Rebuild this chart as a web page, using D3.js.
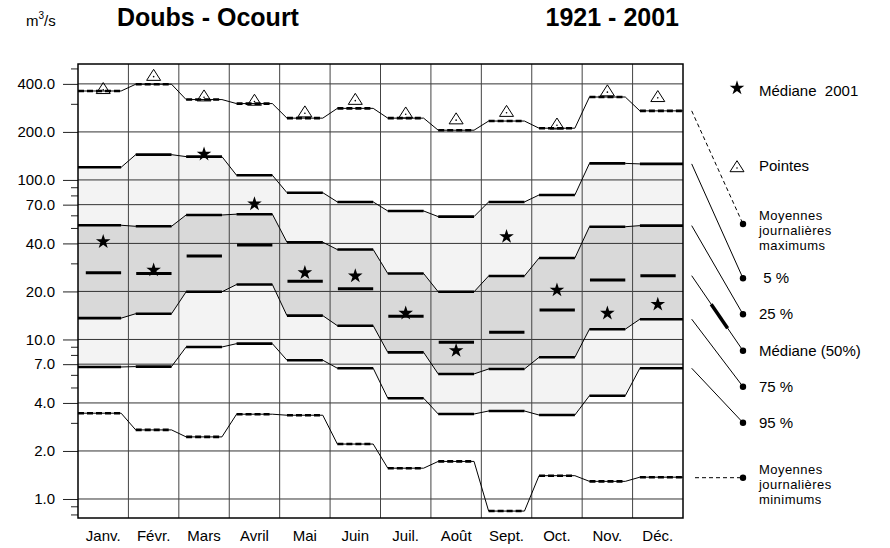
<!DOCTYPE html>
<html><head><meta charset="utf-8">
<script src="https://cdn.jsdelivr.net/npm/d3@7"></script>
<style>
html,body{margin:0;padding:0;background:#fff;}
text{font-family:"Liberation Sans",Arial,Helvetica,sans-serif;fill:#000;}
</style></head>
<body><svg id="c" width="890" height="548"></svg>
<script>
const months = ["Janv.","Févr.","Mars","Avril","Mai","Juin","Juil.","Août","Sept.","Oct.","Nov.","Déc."];
const maxDaily   = [361,398,319,301,244,281,244,205,234,211,331,271];
const pointes    = [367,444,330,310,262,314,258,237,264,220,355,327];
const q05        = [120,144,140,107,83.2,72.8,63.9,58.9,72.8,80.5,127,126];
const q25        = [52.0,51.2,60.3,61.0,40.7,36.6,25.9,19.9,25.0,32.4,50.9,51.7];
const q50        = [26.2,25.9,33.4,39.1,23.2,20.8,14.0,9.6,11.1,15.3,23.6,25.1];
const q75        = [13.6,14.5,19.9,22.1,14.1,12.2,8.3,6.08,6.53,7.73,11.6,13.4];
const q95        = [6.72,6.76,8.97,9.41,7.41,6.60,4.28,3.41,3.56,3.36,4.44,6.60];
const minDaily   = [3.45,2.71,2.45,3.40,3.35,2.21,1.56,1.72,0.84,1.40,1.29,1.37];
const median2001 = [41.0,27.2,145,70.7,26.2,25.0,14.6,8.51,44.1,20.4,14.6,16.6];
const majorTicks = [1,2,4,7,10,20,40,70,100,200,400];
const minorTicks = [0.8,0.9,3,5,6,8,9,30,50,60,80,90,300,500];
const legendLabels = ["Médiane  2001","Pointes","Moyennes|journalières|maximums"," 5 %","25 %","Médiane (50%)","75 %","95 %","Moyennes|journalières|minimums"];

const svg = d3.select("#c");
const L = 78, R = 683, T = 64, B = 518;
const x = d3.scaleBand().domain(months).range([L, R]).paddingInner(0).paddingOuter(0);
const y = d3.scaleLog().domain([0.76, 533]).range([B, T]);
const bw = x.bandwidth();
const inset = 7.3;

function pts(vals){
  const out = [];
  vals.forEach((v,i)=>{
    const x0 = x(months[i]), x1 = x0 + bw;
    out.push({x: i===0 ? x0 : x0+inset, v, i});
    out.push({x: i===11 ? x1 : x1-inset, v, i});
  });
  return out;
}
const line = d3.line().x(d=>d.x).y(d=>y(d.v));

// fills
function band(top, bot, color){
  const a = pts(top), b = pts(bot);
  const data = a.map((d,k)=>({x:d.x, t:d.v, b:b[k].v}));
  svg.append("path").datum(data)
    .attr("d", d3.area().x(d=>d.x).y0(d=>y(d.b)).y1(d=>y(d.t)))
    .attr("fill", color).attr("stroke","none");
}
band(q05, q95, "#f3f3f3");
band(q25, q75, "#d9d9d9");

// gridlines
svg.append("g").selectAll("line").data(majorTicks).join("line")
  .attr("x1", L).attr("x2", R).attr("y1", d=>y(d)).attr("y2", d=>y(d))
  .attr("stroke", "#333").attr("stroke-width", 1);
svg.append("g").selectAll("line").data(months.slice(1)).join("line")
  .attr("x1", d=>x(d)).attr("x2", d=>x(d)).attr("y1", T).attr("y2", B)
  .attr("stroke", "#444").attr("stroke-width", 1);

// axes
const ax = svg.append("g").attr("transform", `translate(${L},0)`)
  .call(d3.axisLeft(y).tickValues(majorTicks).tickFormat(d3.format(".1f")).tickSize(15).tickPadding(8));
ax.select(".domain").remove();
ax.selectAll("line").attr("stroke","#222");
ax.selectAll("text").attr("font-size", 15).attr("font-family", '"Liberation Sans",Arial,sans-serif').attr("fill","#000");
const axm = svg.append("g").attr("transform", `translate(${L},0)`)
  .call(d3.axisLeft(y).tickValues(minorTicks).tickFormat("").tickSize(7));
axm.select(".domain").remove();
axm.selectAll("line").attr("stroke","#222");

// month labels
svg.append("g").selectAll("text").data(months).join("text")
  .attr("x", d=>x(d)+bw/2).attr("y", 541).attr("text-anchor","middle")
  .attr("font-size", 15).text(d=>d);

// series lines
function series(vals, dashed){
  const p = pts(vals);
  svg.append("path").datum(p).attr("d", line).attr("fill","none")
    .attr("stroke","#000").attr("stroke-width",1);
  const g = svg.append("g");
  for(let i=0;i<12;i++){
    g.append("line").attr("x1", p[2*i].x).attr("x2", p[2*i+1].x)
      .attr("y1", y(vals[i])).attr("y2", y(vals[i]))
      .attr("stroke","#000").attr("stroke-width", 2.6)
      .attr("stroke-dasharray", dashed ? "6,3" : null);
  }
}
series(maxDaily, true);
series(q05, false);
series(q25, false);
series(q75, false);
series(q95, false);
series(minDaily, true);

// medians
svg.append("g").selectAll("line").data(q50).join("line")
  .attr("x1", (d,i)=>x(months[i])+inset+0.5).attr("x2", (d,i)=>x(months[i])+bw-inset)
  .attr("y1", d=>y(d)).attr("y2", d=>y(d))
  .attr("stroke","#000").attr("stroke-width",3);

// markers
const star = d3.symbol(d3.symbolStar, 66);
const triPath = "M0,-7.3L7,3.7L-7,3.7Z";
svg.append("g").selectAll("path").data(median2001).join("path")
  .attr("transform",(d,i)=>`translate(${x(months[i])+bw/2},${y(d)})`)
  .attr("d", star).attr("fill","#000");
const tg = svg.append("g").selectAll("g").data(pointes).join("g")
  .attr("transform",(d,i)=>`translate(${x(months[i])+bw/2},${y(d)})`);
tg.append("path").attr("d", triPath).attr("fill","none").attr("stroke","#000").attr("stroke-width",1);
tg.append("circle").attr("r",0.8).attr("fill","#000");

// border
svg.append("rect").attr("x",L).attr("y",T).attr("width",R-L).attr("height",B-T)
  .attr("fill","none").attr("stroke","#000").attr("stroke-width",1.5);

// titles
const u = svg.append("text").attr("x",26).attr("y",26).attr("font-size",15);
u.append("tspan").text("m");
u.append("tspan").attr("font-size",10).attr("dy",-7).text("3");
u.append("tspan").attr("dy",7).text("/s");
svg.append("text").attr("x",117).attr("y",26).attr("font-size",25).attr("font-weight","bold").text("Doubs - Ocourt");
svg.append("text").attr("x",679).attr("y",26).attr("font-size",25).attr("font-weight","bold").attr("text-anchor","end").text("1921 - 2001");

// legend
const lx0 = 691.7, dotX = 743, tx = 759;
const lg = svg.append("g");
lg.append("path").attr("d", star).attr("transform","translate(737,88)").attr("fill","#000");
lg.append("text").attr("x",tx).attr("y",96).attr("font-size",15).style("white-space","pre").text(legendLabels[0]);
const lt = lg.append("g").attr("transform","translate(737,168)");
lt.append("path").attr("d", triPath).attr("fill","none").attr("stroke","#000");
lt.append("circle").attr("r",0.8).attr("fill","#000");
lg.append("text").attr("x",tx).attr("y",171).attr("font-size",15).text(legendLabels[1]);

function multi(lbl, x0, y0){
  const t = lg.append("text").attr("font-size",13).attr("letter-spacing","0.45");
  lbl.split("|").forEach((s,k)=>t.append("tspan").attr("x",x0).attr("y",y0+k*15).text(s));
}
const items = [
  {v: maxDaily[11], dy: 224, dash: true, lbl: legendLabels[2], ty: 219.5},
  {v: q05[11], dy: 278.3, lbl: legendLabels[3], ty: 283},
  {v: q25[11], dy: 314.3, lbl: legendLabels[4], ty: 319},
  {v: q50[11], dy: 350.7, lbl: legendLabels[5], ty: 355.5, med: true},
  {v: q75[11], dy: 386.7, lbl: legendLabels[6], ty: 391.5},
  {v: q95[11], dy: 422.7, lbl: legendLabels[7], ty: 427.5},
  {v: minDaily[11], dy: 477.7, dash: true, lbl: legendLabels[8], ty: 474, flat: true}
];
items.forEach(it=>{
  const y0 = it.flat ? it.dy : y(it.v);
  const sx = it.flat ? 695 : lx0;
  lg.append("line").attr("x1",sx).attr("y1",y0).attr("x2",dotX).attr("y2",it.dy)
    .attr("stroke","#000").attr("stroke-width",1).attr("stroke-dasharray", it.dash ? "4,3" : null);
  if(it.med){
    const t0 = 0.38, t1 = 0.7;
    lg.append("line").attr("x1",sx+(dotX-sx)*t0).attr("y1",y0+(it.dy-y0)*t0)
      .attr("x2",sx+(dotX-sx)*t1).attr("y2",y0+(it.dy-y0)*t1)
      .attr("stroke","#000").attr("stroke-width",3.5);
  }
  lg.append("circle").attr("cx",dotX).attr("cy",it.dy).attr("r",3.2).attr("fill","#000");
  if(it.lbl.includes("|")) multi(it.lbl, tx, it.ty);
  else lg.append("text").attr("x",tx).attr("y",it.ty).attr("font-size",15).style("white-space","pre").text(it.lbl);
});
</script></body></html>
